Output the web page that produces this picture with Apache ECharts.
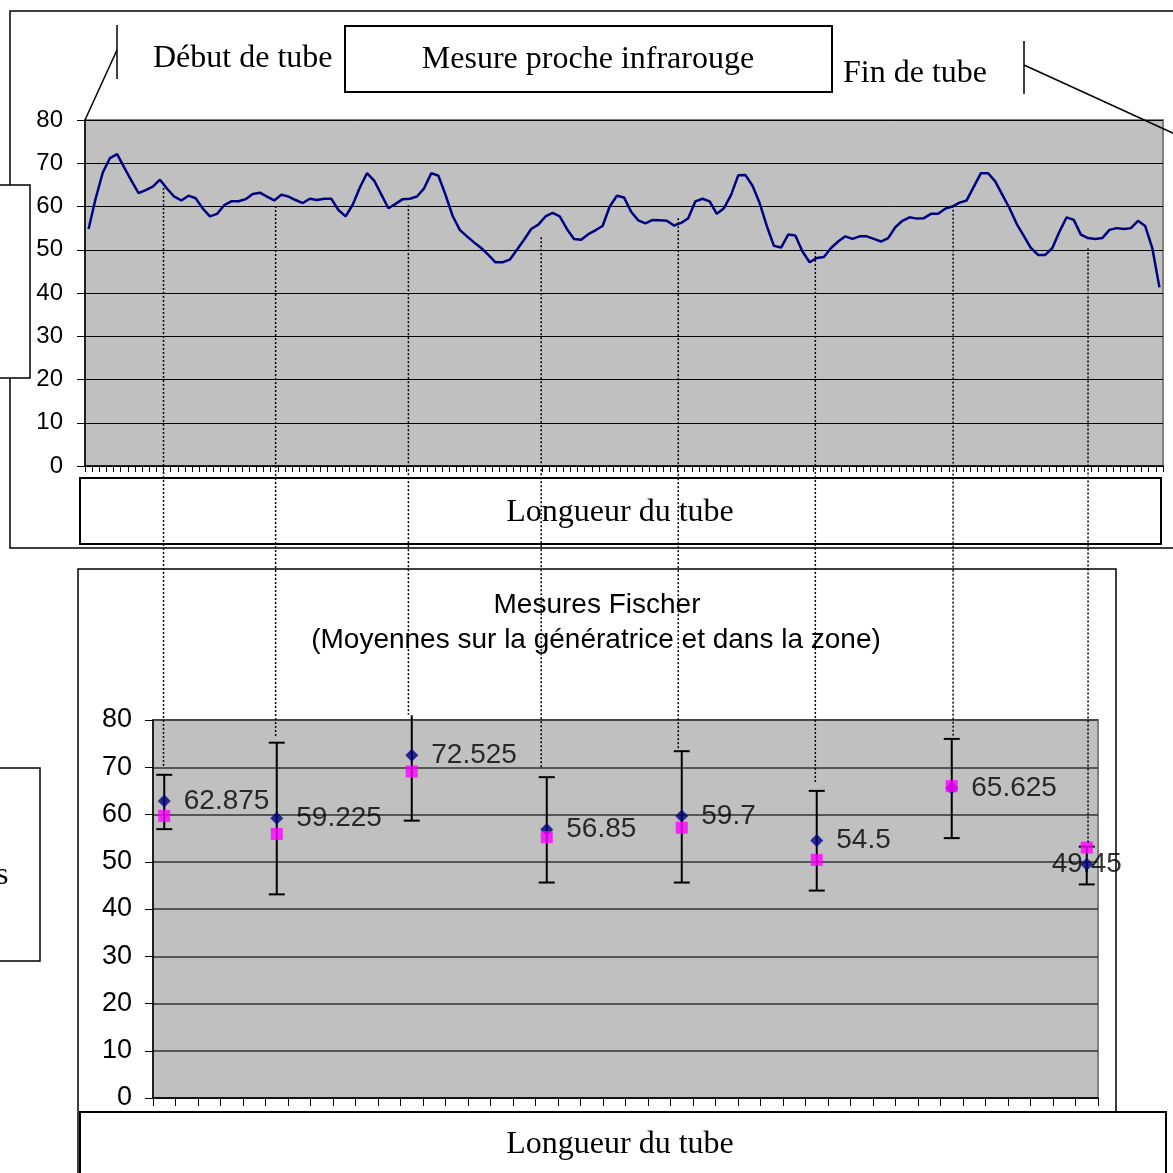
<!DOCTYPE html>
<html><head><meta charset="utf-8">
<script src="https://cdn.jsdelivr.net/npm/echarts@6/dist/echarts.min.js"></script>
<style>html,body{margin:0;padding:0;background:#fff;overflow:hidden}#c{width:1173px;height:1173px}</style>
</head><body><div id="c"></div>
<script>
// ---- Data ----
const nirValues = [
  54.8, 61.9, 67.9, 71.2, 72.1, 69.0, 66.0, 63.1, 63.8, 64.6,
  66.2, 64.1, 62.3, 61.4, 62.5, 61.9, 59.5, 57.7, 58.3, 60.3,
  61.2, 61.2, 61.7, 62.9, 63.2, 62.3, 61.4, 62.7, 62.3, 61.5,
  60.8, 61.8, 61.5, 61.8, 61.8, 59.2, 57.7, 60.4, 64.4, 67.7,
  66.0, 62.8, 59.6, 60.6, 61.7, 61.8, 62.3, 64.2, 67.7, 67.1,
  62.7, 57.8, 54.6, 53.1, 51.7, 50.4, 48.8, 47.1, 47.1, 47.7,
  50.0, 52.3, 54.8, 55.8, 57.7, 58.5, 57.7, 54.8, 52.5, 52.3,
  53.6, 54.5, 55.5, 60.0, 62.5, 62.1, 58.8, 56.8, 56.1, 56.9,
  56.8, 56.7, 55.6, 56.2, 57.3, 61.2, 61.8, 61.2, 58.3, 59.6,
  62.7, 67.2, 67.3, 64.8, 60.8, 55.5, 50.9, 50.5, 53.5, 53.3,
  49.6, 47.1, 48.1, 48.3, 50.4, 51.9, 53.1, 52.5, 53.1, 53.1,
  52.5, 51.9, 52.7, 55.2, 56.7, 57.5, 57.2, 57.3, 58.3, 58.3,
  59.5, 60.0, 60.9, 61.4, 64.6, 67.7, 67.7, 65.8, 62.7, 59.6,
  56.0, 53.2, 50.4, 48.8, 48.8, 50.4, 54.2, 57.5, 56.9, 53.5,
  52.7, 52.5, 52.7, 54.6, 55.0, 54.8, 55.0, 56.7, 55.5, 50.4,
  41.3
];
const yTickValues = [0, 10, 20, 30, 40, 50, 60, 70, 80];
const fischerCategoryCount = 42;
const fischerPos   = [0, 5, 11, 17, 23, 29, 35, 41];
const fischerMean  = [62.875, 59.225, 72.525, 56.85, 59.7, 54.5, 65.625, 49.45];
const fischerOther = [59.7, 55.9, 69.1, 55.2, 57.2, 50.4, 66.0, 53.0];
const errLow  = [56.9, 43.1, 58.7, 45.6, 45.6, 43.9, 55.0, 45.2];
const errHigh = [68.4, 75.2, 81.0, 67.9, 73.4, 65.0, 76.0, 53.2];
// dotted connectors (top chart index/value -> bottom chart value)
const connTopIdx    = [10.5, 26.2, 44.8, 63.4, 82.6, 101.8, 121.1, 140.0];
const connTopVal    = [64.3, 60.1, 60.3, 52.9, 57.3, 49.5, 60.2, 50.3];
const connBottomVal = [70.1, 76.4, 81.1, 69.9, 73.7, 66.7, 76.4, 53.8];

const SANS = '"Liberation Sans", Arial, sans-serif';
const SERIF = '"Liberation Serif", "Times New Roman", serif';

const chart = echarts.init(document.getElementById('c'), null, {renderer: 'canvas'});

const lastIdx = fischerMean.length - 1;
const meanData = fischerMean.map((v, i) => {
  const item = {value: [fischerPos[i], v]};
  if (i === lastIdx) item.label = {position: 'inside'};
  return item;
});
const otherData = fischerOther.map((v, i) => [fischerPos[i], v]);
const errData = fischerPos.map((p, i) => [p, errLow[i], errHigh[i]]);
const catNames = Array.from({length: fischerCategoryCount}, (_, i) => String(i + 1));

const option = {
  animation: false,
  backgroundColor: '#fff',
  textStyle: {fontFamily: SANS},
  grid: [
    {left: 85, top: 120, right: 10, bottom: 707, show: true, backgroundColor: '#C0C0C0',
     borderColor: '#808080', borderWidth: 2, containLabel: false, outerBoundsMode: 'none'},
    {left: 153, top: 720, right: 75, bottom: 75, show: true, backgroundColor: '#C0C0C0',
     borderColor: '#808080', borderWidth: 2, containLabel: false, outerBoundsMode: 'none'}
  ],
  xAxis: [
    {gridIndex: 0, type: 'value', min: -0.5, max: nirValues.length - 0.5, interval: 1,
     axisLine: {show: true, onZero: false, lineStyle: {color: '#000', width: 1.5}},
     axisTick: {show: true, inside: false, length: 6, lineStyle: {color: '#000', width: 1}},
     axisLabel: {show: false}, splitLine: {show: false}},
    {gridIndex: 1, type: 'category', data: catNames, boundaryGap: true,
     axisLine: {show: true, onZero: false, lineStyle: {color: '#000', width: 1.5}},
     axisTick: {show: true, inside: false, length: 8, interval: 0, alignWithLabel: false, lineStyle: {color: '#000', width: 1}},
     axisLabel: {show: false}, splitLine: {show: false}}
  ],
  yAxis: [
    {gridIndex: 0, type: 'value', min: yTickValues[0], max: yTickValues[yTickValues.length - 1], interval: 10,
     axisLine: {show: true, onZero: false, lineStyle: {color: '#000', width: 1.5}},
     axisTick: {show: true, inside: false, length: 8, lineStyle: {color: '#000', width: 1}},
     axisLabel: {show: true, color: '#000', fontSize: 24, fontFamily: SANS, margin: 22},
     splitLine: {show: true, lineStyle: {color: '#000', width: 1}}},
    {gridIndex: 1, type: 'value', min: yTickValues[0], max: yTickValues[yTickValues.length - 1], interval: 10,
     axisLine: {show: true, onZero: false, lineStyle: {color: '#000', width: 1.5}},
     axisTick: {show: true, inside: false, length: 8, lineStyle: {color: '#000', width: 1}},
     axisLabel: {show: true, color: '#000', fontSize: 27, fontFamily: SANS, margin: 21},
     splitLine: {show: true, lineStyle: {color: '#333', width: 1.5}}}
  ],
  series: [
    {type: 'line', xAxisIndex: 0, yAxisIndex: 0, data: nirValues.map((v, i) => [i, v]),
     showSymbol: false, symbol: 'none', lineStyle: {color: '#000080', width: 2.5}, z: 3},
    {type: 'custom', xAxisIndex: 1, yAxisIndex: 1, data: errData, encode: {x: 0, y: [1, 2]}, z: 2,
     renderItem: function (params, api) {
       const p = api.value(0);
       const x = api.coord([p, 0])[0];
       const yLo = api.coord([p, api.value(1)])[1];
       const yHi = api.coord([p, api.value(2)])[1];
       const st = {stroke: '#000', lineWidth: 2};
       const children = [
         {type: 'line', shape: {x1: x, y1: yLo, x2: x, y2: yHi}, style: st},
         {type: 'line', shape: {x1: x - 8, y1: yLo, x2: x + 8, y2: yLo}, style: st}
       ];
       if (api.value(2) <= 80) children.push({type: 'line', shape: {x1: x - 8, y1: yHi, x2: x + 8, y2: yHi}, style: st});
       return {type: 'group', children: children};
     }},
    {type: 'scatter', xAxisIndex: 1, yAxisIndex: 1, data: meanData, symbol: 'diamond', symbolSize: 13,
     itemStyle: {color: '#000080'}, z: 3,
     label: {show: true, position: 'right', distance: 13, color: '#000', fontSize: 28, fontFamily: SANS,
             formatter: p => String(p.value[1])}},
    {type: 'scatter', xAxisIndex: 1, yAxisIndex: 1, data: otherData, symbol: 'rect', symbolSize: 12,
     itemStyle: {color: '#FF00FF'}, z: 4}
  ]
};
chart.setOption(option);

function txt(x, y, text, font, align) {
  return {type: 'text', x: x, y: y, z: 60,
    style: {text: text, font: font, fill: '#000', textAlign: align || 'center', textVerticalAlign: 'middle',
            align: align || 'center', verticalAlign: 'middle'}};
}
function rect(x, y, w, h, lw, fill) {
  return {type: 'rect', z: 40, shape: {x: x, y: y, width: w, height: h},
    style: {fill: fill === undefined ? '#fff' : fill, stroke: '#000', lineWidth: lw}};
}
function seg(x1, y1, x2, y2, lw) {
  return {type: 'line', z: 45, shape: {x1: x1, y1: y1, x2: x2, y2: y2}, style: {stroke: '#000', lineWidth: lw}};
}

const els = [];
// outer frames
els.push(Object.assign(rect(10, 11, 1220, 537, 1.5, 'transparent'), {z: 1, silent: true}));
els.push(Object.assign(rect(78, 569, 1038, 700, 1.5, 'transparent'), {z: 1, silent: true}));
// left boxes
els.push(rect(-6, 185, 36, 193, 1.5));
els.push(rect(-6, 768, 46, 193, 1.5));
els.push(txt(-4, 876, 's', '32px ' + SERIF, 'left'));
// title box
els.push(rect(345, 26, 487, 66, 2));
els.push(txt(588, 60, 'Mesure proche infrarouge', '32px ' + SERIF));
els.push(txt(153, 59, 'Début de tube', '32px ' + SERIF, 'left'));
els.push(txt(843, 74, 'Fin de tube', '32px ' + SERIF, 'left'));
// pointer lines
els.push(seg(117, 25, 117, 79, 1.5));
els.push(seg(117, 50, 85, 120, 1.5));
els.push(seg(1024, 41, 1024, 94, 1.5));
els.push(seg(1024, 65, 1175, 134, 1.5));
// x-axis title boxes
els.push(rect(80, 478, 1081, 66, 2));
els.push(txt(620, 513, 'Longueur du tube', '32px ' + SERIF));
els.push(rect(80, 1112, 1086, 80, 2));
els.push(txt(620, 1145, 'Longueur du tube', '32px ' + SERIF));
// bottom chart title
els.push(txt(597, 605, 'Mesures Fischer', '28px ' + SANS));
els.push(txt(596, 640, '(Moyennes sur la génératrice et dans la zone)', '28px ' + SANS));
// dotted connectors
connTopIdx.forEach((idx, i) => {
  const top = chart.convertToPixel({gridIndex: 0}, [idx, connTopVal[i]]);
  const yb = chart.convertToPixel({yAxisIndex: 1}, connBottomVal[i]);
  els.push({type: 'line', z: 100, shape: {x1: top[0], y1: top[1], x2: top[0], y2: yb},
    style: {stroke: '#000', lineWidth: 1.5, lineDash: [2, 2]}});
});

chart.setOption({graphic: {elements: els}});
</script>
</body></html>
